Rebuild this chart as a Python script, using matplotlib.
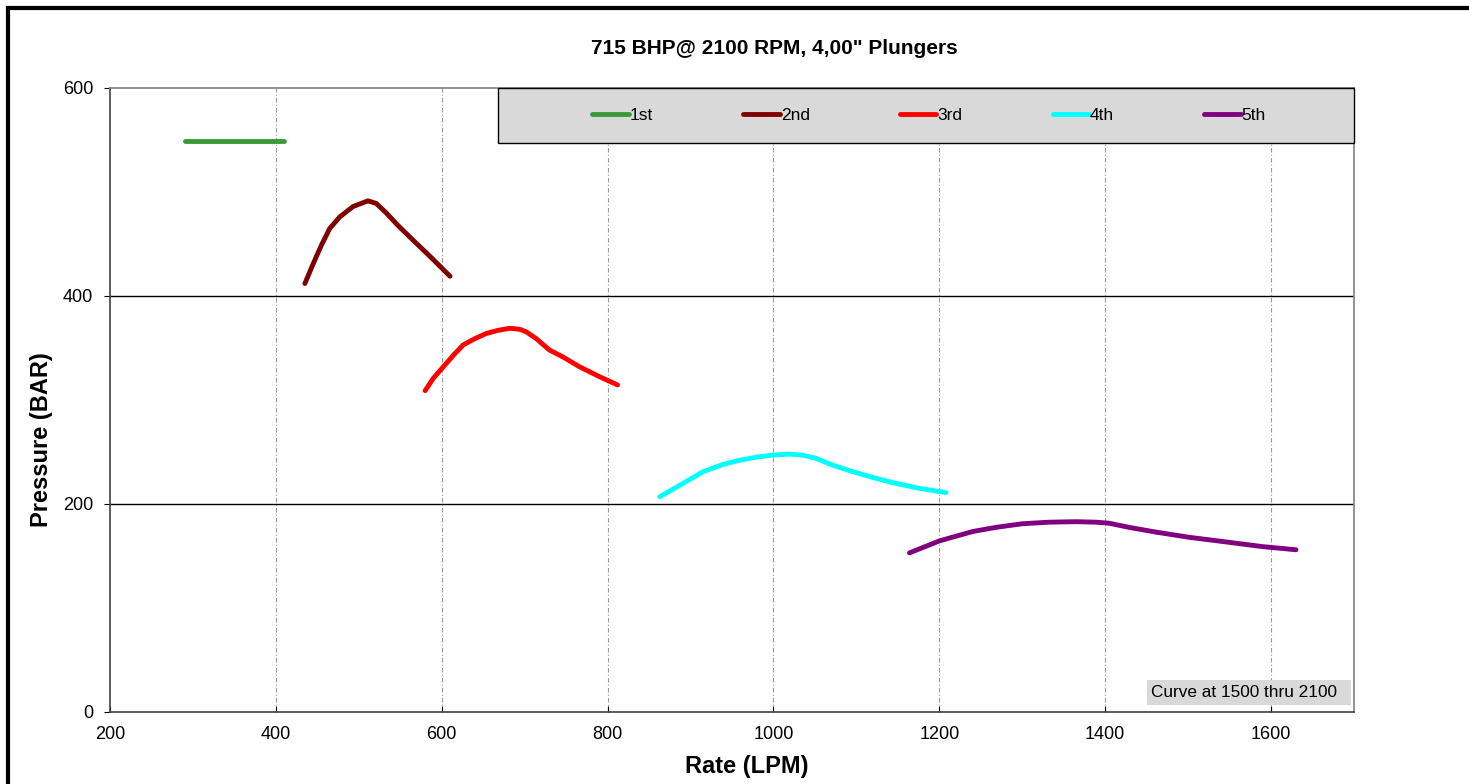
import matplotlib
matplotlib.use('Agg')
import matplotlib.pyplot as plt
from matplotlib.patches import Rectangle

plt.rcParams['font.family'] = ['Liberation Sans', 'DejaVu Sans']

# gear curves, rate (LPM) vs pressure (BAR)
rate_1st = [290, 350, 410]
pres_1st = [549, 549, 549]

rate_2nd = [435, 445, 455, 465, 477, 493, 511, 521, 533, 547, 565, 586, 610]
pres_2nd = [412, 431, 449, 465, 476, 486, 491.5, 489, 480, 468, 454, 438, 419]

rate_3rd = [580, 590, 602, 614, 626, 640, 654, 668, 682, 694, 702, 714, 730,
            746, 766, 790, 812]
pres_3rd = [309, 321, 332, 343, 353, 359, 364, 367, 369, 368, 365.5, 359, 348,
            341.5, 332, 322.5, 314.5]

rate_4th = [863, 887, 915, 939, 959, 979, 999, 1019, 1035, 1051, 1071, 1096,
            1120, 1144, 1176, 1208]
pres_4th = [207, 218, 231, 238, 242, 245, 247, 248, 247, 244, 237.5, 231,
            225.5, 220.5, 215, 211]

rate_5th = [1164, 1200, 1240, 1268, 1300, 1332, 1365, 1389, 1405, 1429, 1461,
            1501, 1541, 1590, 1630]
pres_5th = [153, 164.5, 173.5, 177.5, 181, 182.5, 183, 182.5, 181.5, 177.5,
            173, 168, 164, 159, 156]

labels = ['1st', '2nd', '3rd', '4th', '5th']
colors = ['#3A9A3A', '#800000', '#FF0000', '#00FFFF', '#800080']

W, H = 1469, 784
fig = plt.figure(figsize=(W / 100, H / 100), dpi=100)
ax = fig.add_axes([110 / W, 1 - 712 / H, (1354 - 110) / W, (712 - 88) / H])

series = [(rate_1st, pres_1st), (rate_2nd, pres_2nd), (rate_3rd, pres_3rd),
          (rate_4th, pres_4th), (rate_5th, pres_5th)]
for (x, y), lab, c in zip(series, labels, colors):
    ax.plot(x, y, color=c, lw=3.5, label=lab, solid_capstyle='round',
            solid_joinstyle='round', zorder=3)

ax.set_xlim(200, 1700)
ax.set_ylim(0, 600)
ax.set_xticks(range(200, 1700, 200))
ax.set_yticks([0, 200, 400, 600])

# grid: vertical dashed grey, horizontal solid black
for xv in range(400, 1700, 200):
    ax.axvline(xv, color='#999999', lw=0.8, ls=(0, (4, 2, 1, 2)), zorder=1)
for yv in [200, 400]:
    ax.axhline(yv, color='black', lw=1, zorder=1)

ax.tick_params(axis='x', direction='in', length=4, pad=10, labelsize=13)
ax.tick_params(axis='y', direction='out', length=4, pad=8, labelsize=13)
for s in ['left', 'bottom']:
    ax.spines[s].set_color('#404040')
    ax.spines[s].set_linewidth(1.2)
for s in ['top', 'right']:
    ax.spines[s].set_color('#808080')
    ax.spines[s].set_linewidth(1.2)

# legend box
ax.add_patch(Rectangle((0.3119, 0.9119), 0.688, 0.0881, transform=ax.transAxes,
                       facecolor='#D9D9D9', edgecolor='black', lw=1,
                       clip_on=False, zorder=4))
ax.legend(loc='center', bbox_to_anchor=(0.6585, 0.9567), ncol=5, frameon=False,
          fontsize=12.5, handlelength=2.1, handletextpad=0.05, columnspacing=5.2)

# note box
ax.add_patch(Rectangle((0.8336, 0.0112), 0.164, 0.0401, transform=ax.transAxes,
                       facecolor='#D9D9D9', edgecolor='none', zorder=4))
ax.text(0.8368, 0.0312, 'Curve at 1500 thru 2100', transform=ax.transAxes,
        ha='left', va='center', fontsize=12.4, zorder=5)

fig.text(774 / W, 1 - 48 / H, '715 BHP@ 2100 RPM, 4,00" Plungers',
         ha='center', va='center', fontsize=15, fontweight='bold')
fig.text(42 / W, 1 - 440 / H, 'Pressure (BAR)', rotation=90,
         ha='center', va='center', fontsize=17, fontweight='bold')
fig.text(747 / W, 1 - 767 / H, 'Rate (LPM)',
         ha='center', va='center', fontsize=17, fontweight='bold')

# outer frame
fig.patches.append(Rectangle((8 / W, -0.1), 1.2, 1 - 8 / H + 0.1,
                             transform=fig.transFigure, fill=False,
                             edgecolor='black', lw=3))

fig.savefig('out.png', dpi=100)
